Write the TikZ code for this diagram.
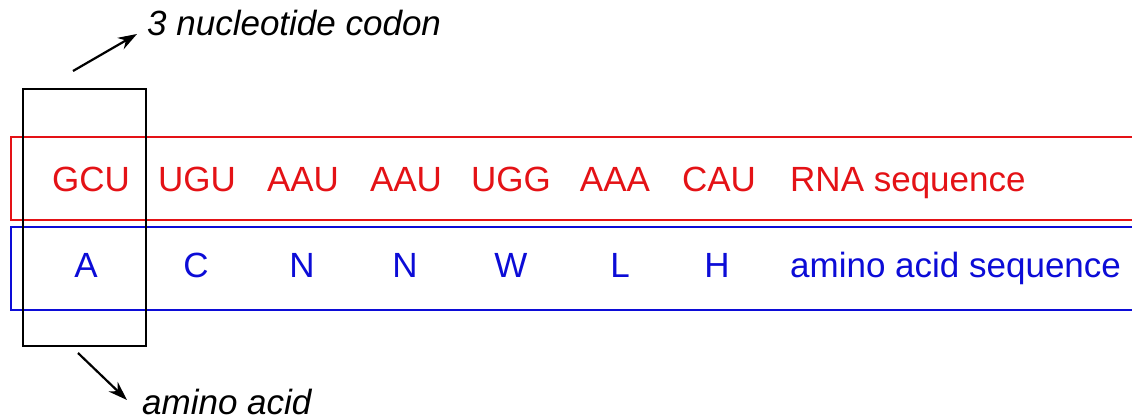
\documentclass[tikz,border=0pt]{standalone}
\usepackage{fontspec}
\setmainfont{Liberation Sans}
\usetikzlibrary{arrows.meta}
\definecolor{rnared}{RGB}{228,18,22}
\definecolor{aablue}{RGB}{12,12,215}
\tikzset{
  rnatxt/.style={text=rnared, font=\fontsize{35}{40}\selectfont, anchor=base, inner sep=0pt},
  aatxt/.style={text=aablue, font=\fontsize{35}{40}\selectfont, anchor=base, inner sep=0pt},
  note/.style={font=\fontsize{35}{40}\selectfont\itshape, anchor=base west, inner sep=0pt},
  ptr/.style={line width=2.2pt, -{Stealth[length=19pt, width=13pt]}},
  seqbox/.style={rectangle, line width=2.4pt, minimum width=1140pt, minimum height=83pt, anchor=north west, inner sep=0pt},
}
\begin{document}
\begin{tikzpicture}[x=1pt, y=-1pt]
\useasboundingbox (0,0) rectangle (1132,420);
\clip (0,0) rectangle (1132,420);
\fill[white] (0,0) rectangle (1132,420);
% boxes
\node (rnabox) [seqbox, draw=rnared] at (10,136) {};
\node (aabox) [seqbox, draw=aablue] at (10,226) {};
\node (codonbox) [draw=black, line width=2.2pt, rectangle, minimum width=123pt, minimum height=257pt, anchor=north west, inner sep=0pt] at (22,88) {};
% RNA sequence
\node (r1) [rnatxt] at (91,191) {GCU};
\node (r2) [rnatxt] at (197,191) {UGU};
\node (r3) [rnatxt] at (303,191) {AAU};
\node (r4) [rnatxt] at (406,191) {AAU};
\node (r5) [rnatxt] at (511,191) {UGG};
\node (r6) [rnatxt] at (615,191) {AAA};
\node (r7) [rnatxt] at (719,191) {CAU};
\node (rl) [rnatxt, anchor=base west] at (790,191) {RNA sequence};
% amino acids
\node (a1) [aatxt] at (86,277) {A};
\node (a2) [aatxt] at (196,277) {C};
\node (a3) [aatxt] at (302,277) {N};
\node (a4) [aatxt] at (405,277) {N};
\node (a5) [aatxt] at (511,277) {W};
\node (a6) [aatxt] at (620,277) {L};
\node (a7) [aatxt] at (717,277) {H};
\node (al) [aatxt, anchor=base west] at (790,277) {amino acid sequence};
% annotations
\node (codonlbl) [note] at (147,36) {3 nucleotide codon};
\node (aalbl) [note] at (142,414) {amino acid};
\coordinate (upstart) at (73,71);
\coordinate (uptip) at (137,34);
\coordinate (dnstart) at (78,353);
\coordinate (dntip) at (127,400);
\draw[ptr] (upstart) -- (uptip);
\draw[ptr] (dnstart) -- (dntip);
\end{tikzpicture}
\end{document}
